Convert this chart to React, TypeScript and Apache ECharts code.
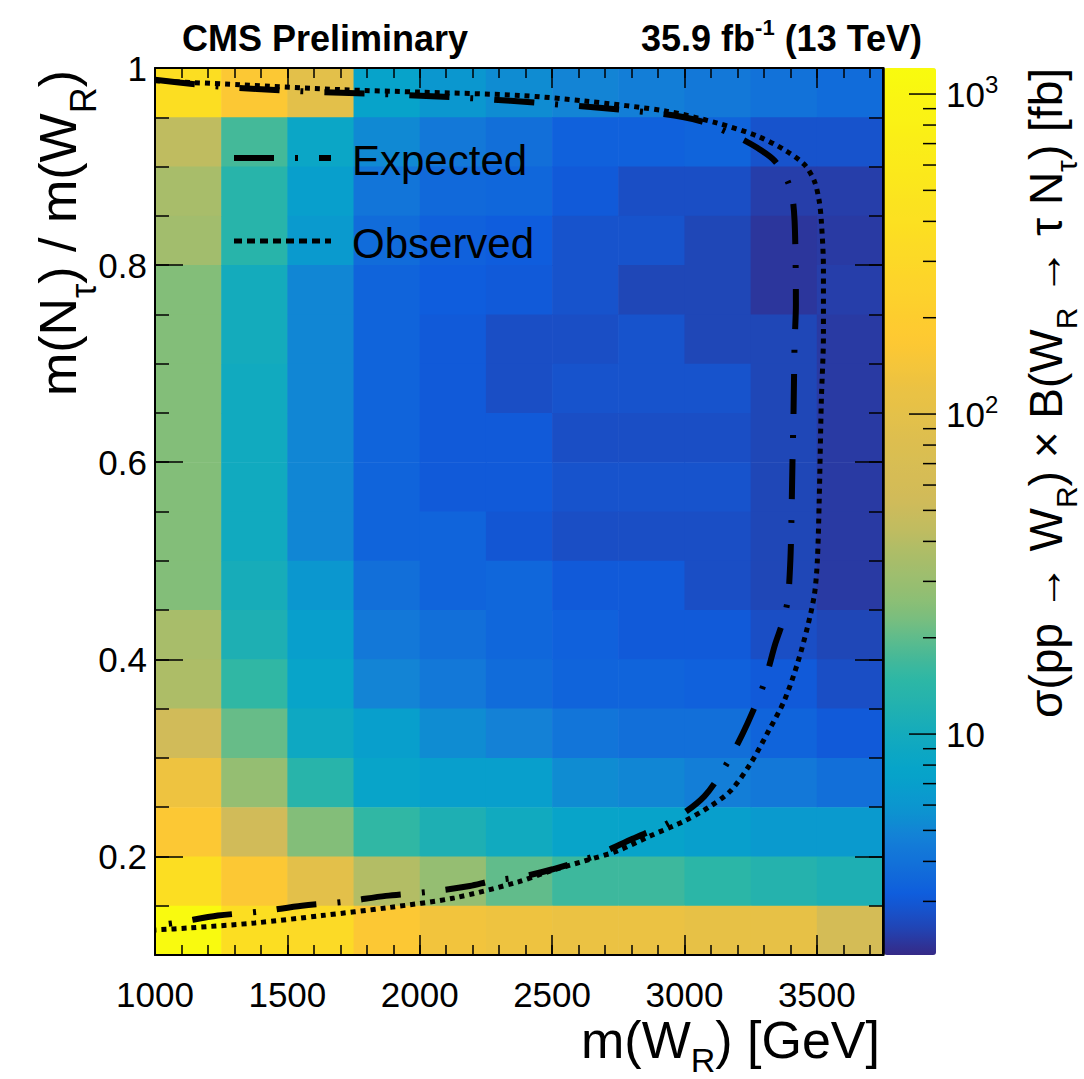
import React, { useEffect, useRef } from "react";
import * as echarts from "echarts";

// ---------------- data ----------------
// lower edges of the m(W_R) bins [GeV] and of the m(N_tau)/m(W_R) bins
const X_BIN_LOW = [1000, 1250, 1500, 1750, 2000, 2250, 2500, 2750, 3000, 3250, 3500];
const X_BIN_WIDTH = 250;
const Y_BIN_LOW = [0.95, 0.9, 0.85, 0.8, 0.75, 0.7, 0.65, 0.6, 0.55, 0.5, 0.45, 0.4, 0.35, 0.3, 0.25, 0.2, 0.15, 0.1];
const Y_BIN_HEIGHT = 0.05;

// sigma x B [fb], one row per Y_BIN_LOW entry (top row first), one column per X_BIN_LOW entry
const SIGMA_FB: number[][] = [
  [376, 163, 97.5, 7.4, 6.08, 5.33, 4.9, 4.63, 4.32, 4.03, 3.76],
  [43.4, 17.1, 8.41, 5.18, 4.32, 3.89, 3.29, 3.29, 3.4, 2.83, 2.83],
  [35, 13.5, 7.05, 4.17, 3.64, 3.52, 3.06, 2.72, 2.72, 2.36, 2.36],
  [32.7, 13.5, 6.38, 3.76, 3.29, 3.18, 2.83, 2.83, 2.52, 2.23, 2.3],
  [24.6, 10, 5.04, 3.4, 3.18, 3.06, 2.83, 2.52, 2.52, 2.23, 2.36],
  [24.6, 10, 5.04, 3.4, 3.06, 2.72, 2.72, 2.83, 2.52, 2.52, 2.3],
  [24.6, 9.57, 5.04, 3.4, 3.06, 2.72, 2.83, 2.83, 2.83, 2.52, 2.3],
  [24.6, 9.57, 5.04, 3.4, 3.06, 3.06, 2.72, 2.72, 2.72, 2.52, 2.3],
  [24.6, 9.57, 5.04, 3.4, 3.06, 3.06, 2.83, 2.83, 2.83, 2.52, 2.3],
  [24.6, 9.57, 5.04, 3.4, 3.4, 2.95, 2.72, 2.72, 2.72, 2.52, 2.3],
  [24.6, 10.5, 6.08, 3.89, 3.4, 3.52, 3.06, 3.06, 2.72, 2.52, 2.3],
  [35, 11.6, 7.05, 4.32, 3.89, 3.52, 3.29, 3.06, 3.06, 2.72, 2.52],
  [37, 15.1, 7.89, 4.9, 4.32, 3.76, 3.4, 3.4, 3.29, 3.06, 2.72],
  [53.8, 20.8, 8.97, 7.05, 5.33, 4.77, 4.17, 3.89, 3.89, 3.4, 3.06],
  [127, 28.6, 13.5, 7.89, 7.05, 7.05, 5.33, 5.04, 4.63, 4.32, 3.89],
  [163, 53.8, 24.6, 15.1, 11.6, 9.57, 7.89, 7.4, 7.05, 6.38, 6.38],
  [376, 163, 97.5, 39, 28.6, 20.1, 16.4, 16.4, 14.3, 12.8, 11.6],
  [1150, 376, 324, 163, 135, 127, 119, 119, 108, 108, 61.4],
];

// exclusion contours [m(W_R), m(N)/m(W_R)]
const EXPECTED: number[][] = [
  [1000, 0.988], [1226, 0.9815], [1543, 0.9765], [1864, 0.9735], [2185, 0.9695], [2500, 0.9635],
  [2900, 0.954], [3060, 0.946], [3208, 0.929], [3275, 0.919], [3340, 0.906], [3390, 0.885],
  [3408, 0.868], [3416, 0.845], [3420, 0.8], [3421, 0.76], [3416, 0.72], [3412, 0.65],
  [3408, 0.6], [3404, 0.54], [3400, 0.5], [3390, 0.46], [3370, 0.437], [3343, 0.4156],
  [3300, 0.375], [3238, 0.335], [3166, 0.297], [3075, 0.261], [2945, 0.235], [2804, 0.218],
  [2655, 0.2], [2502, 0.187], [2395, 0.18], [2272, 0.175], [2189, 0.17], [2030, 0.164],
  [1872, 0.16], [1714, 0.154], [1555, 0.15], [1396, 0.144], [1238, 0.14], [1075, 0.1325], [1000, 0.13],
];
const OBSERVED: number[][] = [
  [1000, 0.987], [1321, 0.983], [1706, 0.978], [2008, 0.9755], [2377, 0.9722], [2623, 0.9665],
  [2936, 0.956], [3125, 0.944], [3275, 0.931], [3377, 0.917], [3453, 0.902], [3491, 0.885],
  [3509, 0.865], [3517, 0.845], [3525, 0.797], [3525, 0.729], [3517, 0.662], [3509, 0.561],
  [3502, 0.5], [3491, 0.466], [3464, 0.432], [3426, 0.395], [3377, 0.358], [3313, 0.325],
  [3249, 0.294], [3174, 0.2665], [3098, 0.251], [3000, 0.236], [2872, 0.221], [2747, 0.2056],
  [2623, 0.1955], [2494, 0.1853], [2370, 0.174], [2132, 0.158], [1879, 0.148], [1630, 0.14],
  [1377, 0.1325], [1125, 0.1274], [1000, 0.1254],
];

// axes
const X_MIN = 1000, X_MAX = 3750;
const Y_MIN = 0.1, Y_MAX = 1;
const Y_MAJOR = [0.2, 0.4, 0.6, 0.8, 1];
const Z_MIN = 2.04, Z_MAX = 1206;
const CB_MAJOR = [10, 100, 1000];
const CB_MINOR = [3, 4, 5, 6, 7, 8, 9, 20, 30, 40, 50, 60, 70, 80, 90, 200, 300, 400, 500, 600, 700, 800, 900];

// ---------------- palette (ROOT kBird) ----------------
const BIRD = [
  [53, 42, 135], [15, 92, 221], [20, 129, 214], [6, 164, 202], [46, 183, 164],
  [135, 191, 119], [209, 187, 89], [254, 200, 50], [249, 251, 14],
];
// palette position along the log10 z axis as seen on the colour bar
const CBAR_LOG = [0.309, 0.3375, 0.384, 0.434, 0.503, 0.575, 0.666, 0.7625, 0.869, 0.981, 1.084, 1.178, 1.269, 1.369, 1.456, 1.544, 1.6375, 1.731, 1.903, 2.075, 2.225, 2.575, 3.082];
const CBAR_T = [0, 0.02, 0.06, 0.09, 0.13, 0.18, 0.24, 0.32, 0.37, 0.41, 0.46, 0.5, 0.55, 0.61, 0.65, 0.68, 0.72, 0.75, 0.78, 0.82, 0.875, 0.93, 1];

function interp(xs: number[], ys: number[], x: number) {
  if (x <= xs[0]) return ys[0];
  for (let i = 1; i < xs.length; i++) {
    if (x <= xs[i]) {
      const f = (x - xs[i - 1]) / (xs[i] - xs[i - 1]);
      return ys[i - 1] + (ys[i] - ys[i - 1]) * f;
    }
  }
  return ys[ys.length - 1];
}
function birdColor(t: number) {
  const p = Math.max(0, Math.min(1, t)) * (BIRD.length - 1);
  const i = Math.min(BIRD.length - 2, Math.floor(p));
  const f = p - i;
  const c = BIRD[i].map((v, k) => Math.round(v + (BIRD[i + 1][k] - v) * f));
  return `rgb(${c[0]},${c[1]},${c[2]})`;
}
const LMIN = Math.log10(Z_MIN);
const LMAX = Math.log10(Z_MAX);
const N_COL = 120;
const VM_COLORS: string[] = [];
for (let i = 0; i < N_COL; i++) {
  const L = LMIN + ((LMAX - LMIN) * i) / (N_COL - 1);
  VM_COLORS.push(birdColor(interp(CBAR_LOG, CBAR_T, L)));
}

const FONT = '"Liberation Sans", Arial, Helvetica, sans-serif';

function buildOption() {
  const cells: number[][] = [];
  SIGMA_FB.forEach((row, r) =>
    row.forEach((v, c) => cells.push([X_BIN_LOW[c], Y_BIN_LOW[r], Math.log10(v), v]))
  );
  const black = { color: "#000", width: 1.5 };
  const labelBase = { fontSize: 35, color: "#000", fontFamily: FONT };

  const xAxisCommon = {
    gridIndex: 0, type: "value", min: X_MIN, max: X_MAX, z: 10,
    splitLine: { show: false },
  };
  const yAxisCommon = {
    gridIndex: 0, type: "value", min: Y_MIN, max: Y_MAX, z: 10,
    splitLine: { show: false },
  };
  const supRich = {
    sup: { fontSize: 24, fontFamily: FONT, color: "#000", padding: [0, 0, 20, 0] },
  };
  // title rich styles: main text at the top of the line, subscript at the bottom
  const titleRich = (size: number, subSize: number, pad: number) => ({
    m: { fontSize: size, fontFamily: FONT, fill: "#000", verticalAlign: "top" },
    sub: { fontSize: subSize, fontFamily: FONT, fill: "#000", verticalAlign: "bottom", padding: [pad, 0, 0, 0] },
  });

  return {
    animation: false,
    backgroundColor: "#fff",
    grid: [
      { left: 155, right: 201, top: 68, bottom: 124, show: false },
      { left: 884, right: 148, top: 68, bottom: 124, show: false },
    ],
    xAxis: [
      {
        ...xAxisCommon, position: "bottom", interval: 500,
        axisLine: { show: true, onZero: false, lineStyle: { color: "#000", width: 2 } },
        axisTick: { inside: true, length: 20, lineStyle: black },
        axisLabel: { ...labelBase, margin: 22, showMaxLabel: false, formatter: (v: number) => String(v) },
      },
      {
        ...xAxisCommon, position: "bottom", interval: 100,
        axisLine: { show: false },
        axisTick: { inside: true, length: 10, lineStyle: black },
        axisLabel: { show: false },
      },
      {
        ...xAxisCommon, position: "top", interval: 500,
        axisLine: { show: true, onZero: false, lineStyle: { color: "#000", width: 2 } },
        axisTick: { inside: true, length: 20, lineStyle: black },
        axisLabel: { show: false },
      },
      {
        ...xAxisCommon, position: "top", interval: 100,
        axisLine: { show: false },
        axisTick: { inside: true, length: 10, lineStyle: black },
        axisLabel: { show: false },
      },
      { gridIndex: 1, type: "value", min: 0, max: 1, show: false },
    ],
    yAxis: [
      {
        ...yAxisCommon, position: "left",
        axisLine: { show: true, onZero: false, lineStyle: { color: "#000", width: 2 } },
        axisTick: { inside: true, length: 28, lineStyle: black, customValues: Y_MAJOR },
        axisLabel: {
          ...labelBase, margin: 8, customValues: Y_MAJOR,
          formatter: (v: number) => String(Math.round(v * 10) / 10),
        },
      },
      {
        ...yAxisCommon, position: "left", interval: 0.05,
        axisLine: { show: false },
        axisTick: { inside: true, length: 14, lineStyle: black },
        axisLabel: { show: false },
      },
      {
        ...yAxisCommon, position: "right",
        axisLine: { show: true, onZero: false, lineStyle: { color: "#000", width: 2 } },
        axisTick: { inside: true, length: 28, lineStyle: black, customValues: Y_MAJOR },
        axisLabel: { show: false },
      },
      {
        ...yAxisCommon, position: "right", interval: 0.05,
        axisLine: { show: false },
        axisTick: { inside: true, length: 14, lineStyle: black },
        axisLabel: { show: false },
      },
      {
        gridIndex: 1, type: "log", logBase: 10, min: Z_MIN, max: Z_MAX, position: "right", z: 10,
        axisLine: { show: true, lineStyle: black },
        axisTick: { show: false },
        minorTick: { show: false },
        splitLine: { show: false },
        axisLabel: {
          ...labelBase, margin: 10,
          formatter: (v: number) => {
            const e = Math.log10(v);
            if (Math.abs(e - Math.round(e)) > 1e-6) return "";
            const n = Math.round(e);
            if (n === 1) return "10";
            return "10{sup|" + n + "}";
          },
          rich: supRich,
        },
      },
    ],
    visualMap: {
      type: "continuous",
      seriesIndex: 0,
      dimension: 2,
      min: LMIN,
      max: LMAX,
      inRange: { color: VM_COLORS },
      orient: "vertical",
      left: 884,
      top: 68,
      itemWidth: 52,
      itemHeight: 887,
      padding: 0,
      calculable: false,
      hoverLink: false,
      text: null,
      show: true,
    },
    series: [
      {
        name: "sigma",
        type: "custom",
        xAxisIndex: 0,
        yAxisIndex: 0,
        z: 2,
        silent: true,
        data: cells,
        renderItem: (params: any, api: any) => {
          const x0 = api.value(0);
          const y0 = api.value(1);
          const p0 = api.coord([x0, y0 + Y_BIN_HEIGHT]);
          const p1 = api.coord([x0 + X_BIN_WIDTH, y0]);
          return {
            type: "rect",
            shape: { x: p0[0], y: p0[1], width: p1[0] - p0[0] + 0.6, height: p1[1] - p0[1] + 0.6 },
            style: { fill: api.visual("color") },
          };
        },
      },
      {
        name: "Expected",
        type: "line",
        xAxisIndex: 0,
        yAxisIndex: 0,
        z: 4,
        data: EXPECTED,
        symbol: "none",
        smooth: 0.3,
        silent: true,
        lineStyle: { color: "#000", width: 6, type: [40, 21, 3, 21] },
      },
      {
        name: "Observed",
        type: "line",
        xAxisIndex: 0,
        yAxisIndex: 0,
        z: 4,
        data: OBSERVED,
        symbol: "none",
        smooth: 0.3,
        silent: true,
        lineStyle: { color: "#000", width: 5, type: [5, 5] },
      },
      {
        name: "cbticks",
        type: "custom",
        xAxisIndex: 4,
        yAxisIndex: 4,
        z: 6,
        silent: true,
        data: [...CB_MAJOR.map((v) => [1, v, 1]), ...CB_MINOR.map((v) => [1, v, 0])],
        renderItem: (params: any, api: any) => {
          const p = api.coord([api.value(0), api.value(1)]);
          const len = api.value(2) ? 27 : 13;
          return {
            type: "line",
            shape: { x1: p[0] - len, y1: p[1], x2: p[0], y2: p[1] },
            style: { stroke: "#000", lineWidth: 1.5 },
          };
        },
      },
    ],
    graphic: [
      // legend
      {
        type: "line", z: 20,
        shape: { x1: 234, y1: 158, x2: 331, y2: 158 },
        style: { stroke: "#000", lineWidth: 6, lineDash: [40, 21, 3, 21] },
      },
      {
        type: "text", z: 20, x: 352, y: 160,
        style: { text: "Expected", fontSize: 42, fontFamily: FONT, fill: "#000", verticalAlign: "middle" },
      },
      {
        type: "line", z: 20,
        shape: { x1: 234, y1: 241, x2: 331, y2: 241 },
        style: { stroke: "#000", lineWidth: 5, lineDash: [8, 5] },
      },
      {
        type: "text", z: 20, x: 352, y: 243,
        style: { text: "Observed", fontSize: 42, fontFamily: FONT, fill: "#000", verticalAlign: "middle" },
      },
      // header
      {
        type: "text", x: 182, y: 38,
        style: { text: "CMS Preliminary", fontSize: 36, fontWeight: "bold", fontFamily: FONT, fill: "#000", verticalAlign: "middle" },
      },
      {
        type: "text", x: 922, y: 38,
        style: {
          text: "35.9 fb{sup|-1} (13 TeV)", fontSize: 36, fontWeight: "bold", fontFamily: FONT, fill: "#000",
          align: "right", verticalAlign: "middle",
          rich: { sup: { fontSize: 22, fontWeight: "bold", fontFamily: FONT, fill: "#000", padding: [0, 0, 22, 0] } },
        },
      },
      // x title
      {
        type: "text", x: 880, y: 1014,
        style: {
          text: "{m|m(W}{sub|R}{m|) [GeV]}", fontSize: 52, fontFamily: FONT, fill: "#000",
          align: "right", verticalAlign: "top",
          rich: titleRich(52, 34, 29),
        },
      },
      // y title
      {
        type: "text", x: 32, y: 70, rotation: Math.PI / 2,
        style: {
          text: "{m|m(N}{sub|τ}{m|) / m(W}{sub|R}{m|)}", fontSize: 52, fontFamily: FONT, fill: "#000",
          align: "right", verticalAlign: "top",
          rich: titleRich(52, 36, 33),
        },
      },
      // z title
      {
        type: "text", x: 1023, y: 68, rotation: Math.PI / 2,
        style: {
          text: "{m|σ(pp → W}{sub|R}{m|) × B(W}{sub|R}{m| → τ N}{sub|τ}{m|) [fb]}", fontSize: 46, fontFamily: FONT, fill: "#000",
          align: "right", verticalAlign: "top",
          rich: titleRich(46, 30, 28),
        },
      },
    ],
  };
}

export default function App() {
  const ref = useRef<HTMLDivElement>(null);
  useEffect(() => {
    document.body.style.margin = "0";
    const chart = echarts.init(ref.current as HTMLDivElement, null, { renderer: "svg" });
    chart.setOption(buildOption() as any);
    return () => chart.dispose();
  }, []);
  return <div ref={ref} style={{ width: 1084, height: 1079 }} />;
}
